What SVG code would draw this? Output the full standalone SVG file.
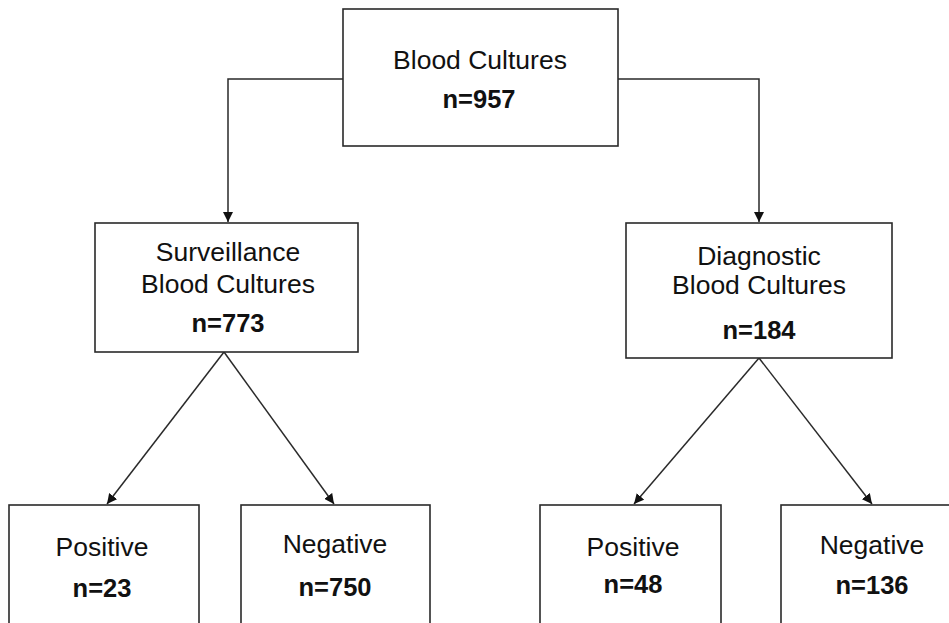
<svg xmlns="http://www.w3.org/2000/svg" width="949" height="623" viewBox="0 0 949 623">
<style>
.box{fill:#fff;stroke:#2a2a2a;stroke-width:1.6}
.t{font-family:"Liberation Sans",Arial,sans-serif;font-size:26.5px;fill:#111;text-anchor:middle}
.b{font-weight:bold;font-size:25.5px}
.c{fill:none;stroke:#2a2a2a;stroke-width:1.5}
</style>
<defs>
<marker id="ah" viewBox="0 0 10 10" refX="10" refY="5" markerWidth="10" markerHeight="10" markerUnits="userSpaceOnUse" orient="auto">
<path d="M0,0 L10,5 L0,10 Z" fill="#111"/>
</marker>
</defs>
<rect width="949" height="623" fill="#fff"/>
<g id="connectors">
<path class="c" d="M343,79 H228 V222" marker-end="url(#ah)"/>
<path class="c" d="M618,79 H759 V222" marker-end="url(#ah)"/>
<path class="c" d="M224,352 L107,504" marker-end="url(#ah)"/>
<path class="c" d="M224,352 L334,504" marker-end="url(#ah)"/>
<path class="c" d="M759,358 L634,504" marker-end="url(#ah)"/>
<path class="c" d="M759,358 L872,504" marker-end="url(#ah)"/>
</g>
<g id="blood-cultures">
<rect class="box" x="343" y="9" width="275" height="137"/>
<text class="t" x="480" y="69">Blood Cultures</text>
<text class="t b" x="479" y="108">n=957</text>
</g>
<g id="surveillance">
<rect class="box" x="95" y="223" width="263" height="129"/>
<text class="t" x="228" y="261">Surveillance</text>
<text class="t" x="228" y="293">Blood Cultures</text>
<text class="t b" x="228" y="332">n=773</text>
</g>
<g id="diagnostic">
<rect class="box" x="626" y="223" width="266" height="135"/>
<text class="t" x="759" y="265">Diagnostic</text>
<text class="t" x="759" y="294">Blood Cultures</text>
<text class="t b" x="759" y="339">n=184</text>
</g>
<g id="surv-positive">
<rect class="box" x="9" y="505" width="190" height="130"/>
<text class="t" x="102" y="556">Positive</text>
<text class="t b" x="102" y="597">n=23</text>
</g>
<g id="surv-negative">
<rect class="box" x="241" y="505" width="189" height="130"/>
<text class="t" x="335" y="553">Negative</text>
<text class="t b" x="335" y="596">n=750</text>
</g>
<g id="diag-positive">
<rect class="box" x="540" y="505" width="181" height="130"/>
<text class="t" x="633" y="556">Positive</text>
<text class="t b" x="633" y="593">n=48</text>
</g>
<g id="diag-negative">
<rect class="box" x="781" y="505" width="190" height="130"/>
<text class="t" x="872" y="554">Negative</text>
<text class="t b" x="872" y="594">n=136</text>
</g>
</svg>
